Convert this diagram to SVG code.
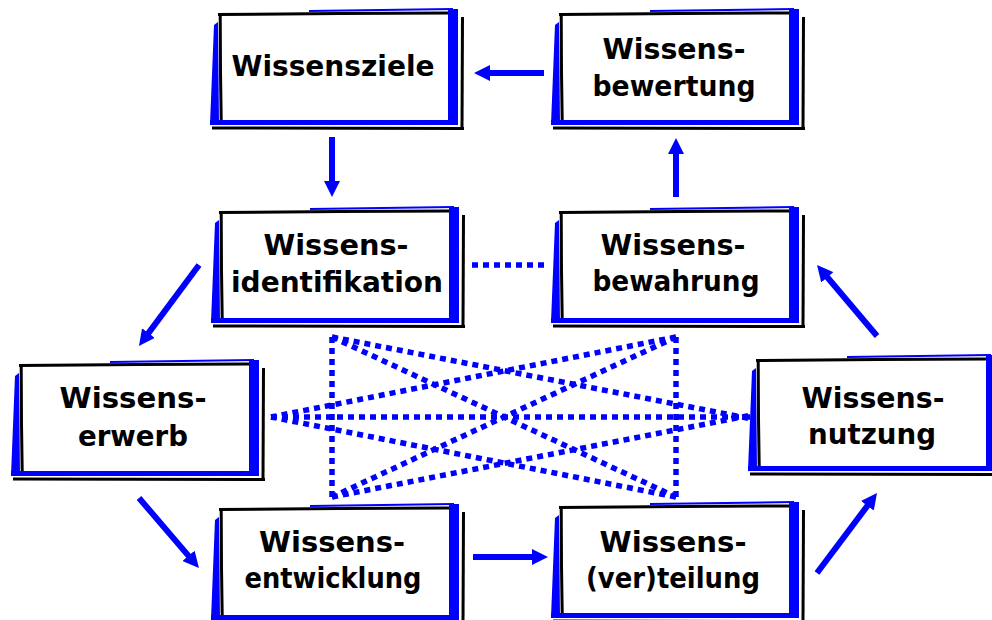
<svg xmlns="http://www.w3.org/2000/svg" xmlns:xlink="http://www.w3.org/1999/xlink" width="992" height="620" viewBox="0 0 992 620">
  <style>
    .lbl { font-family: "DejaVu Sans", "Liberation Sans", sans-serif; font-weight: bold; font-size: 28px; text-anchor: middle; fill: #000; }
    .dot { fill: none; stroke: #0000ff; stroke-width: 5.5; stroke-dasharray: 6 5; }
    .arr { fill: none; stroke: #0000ff; stroke-width: 6; marker-end: url(#head); }
  </style>
  <defs>
    <marker id="head" viewBox="0 -8 16 16" refX="1" refY="0" markerWidth="16" markerHeight="16" markerUnits="userSpaceOnUse" orient="auto">
      <path d="M0,-8 L16,0 L0,8 Z" fill="#0000ff"/>
    </marker>
    <!-- card frame: white face, blue edge on left/right/bottom, black outline and shadow strokes -->
    <g id="frame">
      <rect x="0" y="0" width="229" height="107" fill="#fff"/>
      <polygon points="-9,111 -5,12 -1,9 0,111" fill="#0000ff"/>
      <path d="M90,-2 L234,-4" stroke="#0000ff" stroke-width="2" fill="none"/>
      <path d="M-1,1.5 L120,0.5 L229,0" stroke="#000" stroke-width="3" fill="none"/>
      <path d="M1.2,2 L1.5,60 L2.2,107" stroke="#000" stroke-width="3" fill="none"/>
      <rect x="229" y="-4" width="10" height="116" fill="#0000ff"/>
      <rect x="-9" y="107" width="248" height="5" fill="#0000ff"/>
      <path d="M243.5,4 L243,115.5" stroke="#000" stroke-width="3" fill="none"/>
      <path d="M-7,115 L245,115.5" stroke="#000" stroke-width="3" fill="none"/>
    </g>
  </defs>

  <rect width="992" height="620" fill="#fff"/>

  <!-- connectors -->
  <g id="connectors">
    <!-- dotted cross-links -->
    <line class="dot" x1="472" y1="265" x2="546" y2="265"/>
    <line class="dot" x1="332" y1="337" x2="332" y2="497"/>
    <line class="dot" x1="676" y1="337" x2="676" y2="497"/>
    <line class="dot" x1="271" y1="417" x2="752" y2="417"/>
    <line class="dot" x1="332" y1="337" x2="676" y2="497"/>
    <line class="dot" x1="676" y1="337" x2="332" y2="497"/>
    <line class="dot" x1="332" y1="337" x2="752" y2="419"/>
    <line class="dot" x1="676" y1="337" x2="271" y2="417"/>
    <line class="dot" x1="332" y1="497" x2="752" y2="415"/>
    <line class="dot" x1="676" y1="497" x2="271" y2="417"/>
    <!-- flow arrows -->
    <line class="arr" x1="544" y1="73" x2="489" y2="73"/>
    <line class="arr" x1="332" y1="137" x2="332" y2="182"/>
    <line class="arr" x1="676" y1="197" x2="676" y2="153"/>
    <line class="arr" x1="199" y1="265" x2="147.9" y2="333.9"/>
    <line class="arr" x1="139" y1="498" x2="189.2" y2="556.6"/>
    <line class="arr" x1="473" y1="557" x2="533" y2="557"/>
    <line class="arr" x1="817" y1="573" x2="868" y2="505"/>
    <line class="arr" x1="877" y1="336" x2="826.7" y2="276.5"/>
  </g>

  <g id="wissensziele">
    <use xlink:href="#frame" x="219" y="13"/>
    <text class="lbl" x="333" y="76" textLength="203" lengthAdjust="spacingAndGlyphs">Wissensziele</text>
  </g>

  <g id="wissensbewertung">
    <use xlink:href="#frame" x="560" y="13"/>
    <text class="lbl" x="674" y="59" textLength="143" lengthAdjust="spacingAndGlyphs">Wissens-</text>
    <text class="lbl" x="674" y="96" textLength="163" lengthAdjust="spacingAndGlyphs">bewertung</text>
  </g>

  <g id="wissensidentifikation">
    <use xlink:href="#frame" x="220" y="211"/>
    <text class="lbl" x="336" y="255" textLength="145" lengthAdjust="spacingAndGlyphs">Wissens-</text>
    <text class="lbl" x="337" y="292" textLength="212" lengthAdjust="spacingAndGlyphs">identifikation</text>
  </g>

  <g id="wissensbewahrung">
    <use xlink:href="#frame" x="560" y="211"/>
    <text class="lbl" x="673" y="255" textLength="145" lengthAdjust="spacingAndGlyphs">Wissens-</text>
    <text class="lbl" x="676" y="291" textLength="167" lengthAdjust="spacingAndGlyphs">bewahrung</text>
  </g>

  <g id="wissenserwerb">
    <use xlink:href="#frame" x="20" y="364"/>
    <text class="lbl" x="133" y="408" textLength="147" lengthAdjust="spacingAndGlyphs">Wissens-</text>
    <text class="lbl" x="133" y="446" textLength="110" lengthAdjust="spacingAndGlyphs">erwerb</text>
  </g>

  <g id="wissensnutzung">
    <use xlink:href="#frame" x="757" y="359"/>
    <text class="lbl" x="873" y="408" textLength="143" lengthAdjust="spacingAndGlyphs">Wissens-</text>
    <text class="lbl" x="872" y="444" textLength="128" lengthAdjust="spacingAndGlyphs">nutzung</text>
  </g>

  <g id="wissensentwicklung">
    <use xlink:href="#frame" x="220" y="508"/>
    <text class="lbl" x="332" y="552" textLength="146" lengthAdjust="spacingAndGlyphs">Wissens-</text>
    <text class="lbl" x="333" y="588" textLength="177" lengthAdjust="spacingAndGlyphs">entwicklung</text>
  </g>

  <g id="wissensverteilung">
    <use xlink:href="#frame" x="560" y="506"/>
    <text class="lbl" x="673" y="552" textLength="147" lengthAdjust="spacingAndGlyphs">Wissens-</text>
    <text class="lbl" x="673" y="588" textLength="174" lengthAdjust="spacingAndGlyphs">(ver)teilung</text>
  </g>
</svg>
